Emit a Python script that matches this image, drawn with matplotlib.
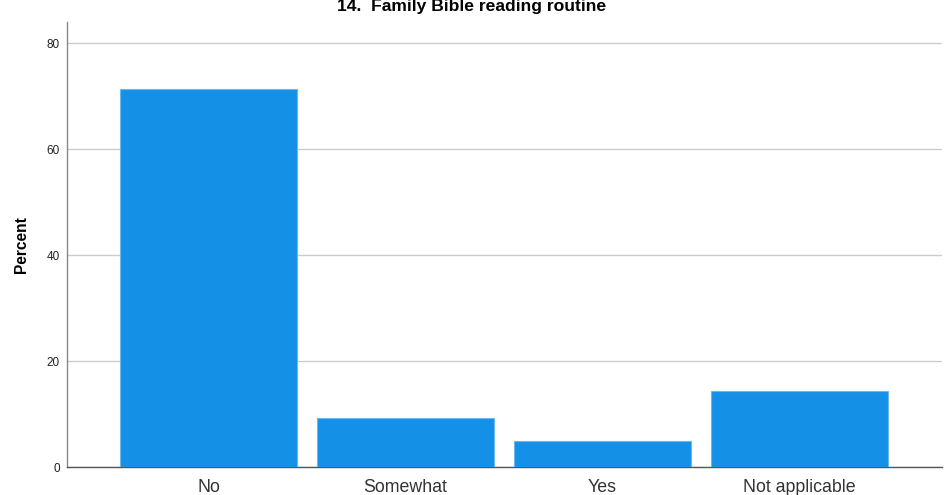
import matplotlib
matplotlib.use("Agg")
import matplotlib.pyplot as plt

categories = ["No", "Somewhat", "Yes", "Not applicable"]
percent = [71.4, 9.3, 5.0, 14.3]
y_ticks = [0, 20, 40, 60, 80]

plt.rcParams["font.family"] = ["Liberation Sans", "DejaVu Sans"]

fig = plt.figure(figsize=(9.45, 4.95), dpi=100)
ax = fig.add_axes([67 / 945, 1 - 467 / 495, 875 / 945, 445 / 495])

positions = list(range(len(categories)))
ax.bar(positions, percent, width=0.9, color="#1490E6", edgecolor="#6CB8EE",
       linewidth=0.8, zorder=3)

ax.set_xlim(-0.72, 3.725)
ax.set_ylim(0, 84)
ax.set_yticks(y_ticks)
ax.set_yticklabels([str(t) for t in y_ticks], fontsize=8.5, color="#222222")
ax.set_xticks(positions)
ax.set_xticklabels(categories, fontsize=12.8, color="#333333")
ax.tick_params(axis="both", length=0, pad=5)
ax.tick_params(axis="x", pad=9)

ax.yaxis.grid(True, color="#CCCCCC", linewidth=1.0, zorder=0)
ax.set_axisbelow(True)

for side in ("top", "right"):
    ax.spines[side].set_visible(False)
ax.spines["left"].set_color("#888888")
ax.spines["bottom"].set_color("#555555")
ax.spines["left"].set_linewidth(1.0)
ax.spines["bottom"].set_linewidth(1.0)

ax.set_ylabel("Percent", fontsize=11.2, fontweight="bold", labelpad=13)

fig.text(472 / 945, 1 - 7 / 495, "14.  Family Bible reading routine",
         ha="center", va="center", fontsize=12.6, fontweight="bold")

fig.savefig("out.png", dpi=100)
